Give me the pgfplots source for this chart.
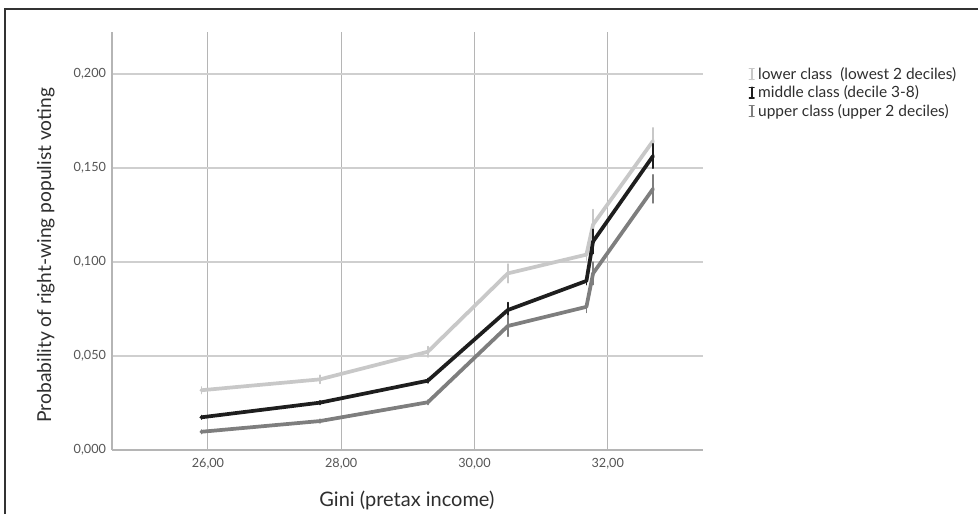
\documentclass[border=0pt]{standalone}
\usepackage{fontspec}
\setmainfont{Lato}
\usepackage{pgfplots}
\pgfplotsset{compat=1.18}
\definecolor{lowc}{HTML}{C8C8C8}
\definecolor{midc}{HTML}{1E1E1E}
\definecolor{upc}{HTML}{7E7E7E}
\definecolor{gridh}{HTML}{CFCFCF}
\definecolor{gridv}{HTML}{B5B5B5}
\definecolor{tickc}{HTML}{555555}
\definecolor{labc}{HTML}{2E2E2E}
\begin{document}
\begin{tikzpicture}[x=0.75pt,y=0.75pt]
\useasboundingbox (0,0) rectangle (978,514);
\draw[line width=1.1pt, color=black!80] (5,0) -- (5,505) -- (978,505);
\begin{axis}[
  at={(84pt,48pt)}, anchor=south west,
  scale only axis, width=443.25pt, height=313.5pt,
  xmin=24.56, xmax=33.43, ymin=0, ymax=0.2225,
  axis x line*=bottom, axis y line*=left,
  axis line style={gridv, line width=1.4pt, -},
  y axis line style={line width=1.2pt},
  xtick={26,28,30,32}, ytick={0,0.05,0.1,0.15,0.2},
  xticklabels={{26,00},{28,00},{30,00},{32,00}},
  yticklabels={{0,000},{0,050},{0,100},{0,150},{0,200}},
  major tick length=0pt,
  xmajorgrids, ymajorgrids,
  x grid style={gridv, line width=0.8pt},
  y grid style={gridh, line width=1.5pt},
  ticklabel style={font=\fontsize{9.5}{11}\selectfont, color=tickc},
  xticklabel style={yshift=-3pt},
  yticklabel style={xshift=-1pt},
  xlabel={Gini (pretax income)},
  xlabel style={at={(axis description cs:0.499,0)}, anchor=center, yshift=-38pt, font=\fontsize{15}{17}\selectfont, color=labc},
  ylabel={Probability of right-wing populist voting},
  ylabel style={at={(axis description cs:-0.112,0.466)}, anchor=center, font=\fontsize{14.4}{17}\selectfont, color=labc},
  legend style={at={(axis description cs:1.0755,0.923)}, anchor=north west, draw=none, fill=none,
    font=\fontsize{11.6}{13.5}\selectfont, text=labc, row sep=-0.6pt, inner sep=0pt},
  legend cell align=left,
  legend image code/.code={
    \draw[#1, line width=1.5pt] (0.1cm,-0.14cm) -- (0.1cm,0.14cm);
    \draw[#1, line width=0.9pt] (0.035cm,-0.14cm) -- (0.165cm,-0.14cm);
    \draw[#1, line width=0.9pt] (0.035cm,0.14cm) -- (0.165cm,0.14cm);
    \path[draw=none] (0,0) -- (0.2cm,0);
  },
  every axis plot/.append style={line width=2.8pt, line join=round, line cap=round, mark=none},
  error bars/error bar style={line width=1.1pt},
  error bars/error mark=none,
  clip=false,
]
\addplot[color=lowc, error bars/.cd, y dir=both, y explicit] coordinates {
  (25.9,0.0318) +- (0,0.0018)
  (27.68,0.0376) +- (0,0.0022)
  (29.3,0.0523) +- (0,0.0028)
  (30.5,0.0940) +- (0,0.0050)
  (31.68,0.1040) +- (0,0.0030)
  (31.78,0.1200) +- (0,0.0080)
  (32.68,0.1645) +- (0,0.0070)
};
\addlegendentry{lower class\ \ (lowest 2 deciles)}
\addplot[color=midc, error bars/.cd, y dir=both, y explicit] coordinates {
  (25.9,0.0174) +- (0,0.0010)
  (27.68,0.0252) +- (0,0.0010)
  (29.3,0.0369) +- (0,0.0012)
  (30.5,0.0745) +- (0,0.0040)
  (31.68,0.0900) +- (0,0.0020)
  (31.78,0.1110) +- (0,0.0065)
  (32.68,0.1565) +- (0,0.0065)
};
\addlegendentry{middle class (decile 3-8)}
\addplot[color=upc, error bars/.cd, y dir=both, y explicit] coordinates {
  (25.9,0.0097) +- (0,0.0010)
  (27.68,0.0154) +- (0,0.0010)
  (29.3,0.0254) +- (0,0.0012)
  (30.5,0.0660) +- (0,0.0055)
  (31.68,0.0762) +- (0,0.0030)
  (31.78,0.0940) +- (0,0.0060)
  (32.68,0.1390) +- (0,0.0075)
};
\addlegendentry{upper class (upper 2 deciles)}
\end{axis}
\end{tikzpicture}
\end{document}
